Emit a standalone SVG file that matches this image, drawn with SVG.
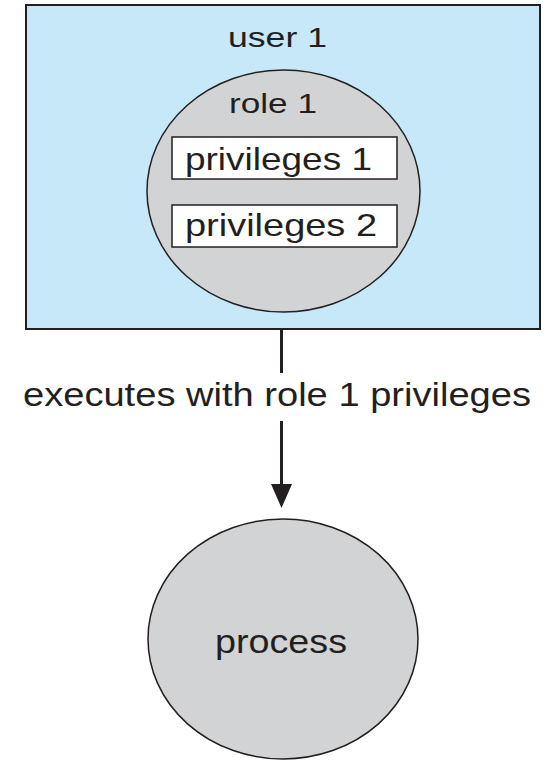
<svg xmlns="http://www.w3.org/2000/svg" width="548" height="760" viewBox="0 0 548 760">
<defs>
<style>
text{font-family:"Liberation Sans",Arial,sans-serif;fill:#231f20}
.shape{stroke:#231f20;stroke-width:1.5}
.conn{stroke:#231f20;stroke-width:3}
</style>
</defs>
<rect width="548" height="760" fill="#ffffff"/>
<g id="user1">
<rect x="26" y="5" width="514" height="324" fill="#c6e8f8" stroke="#231f20" stroke-width="2"/>
<text x="228" y="47" font-size="28" textLength="99" lengthAdjust="spacingAndGlyphs">user 1</text>
</g>
<g id="role1">
<ellipse cx="283.5" cy="191" rx="136.5" ry="121" fill="#d1d3d4" class="shape"/>
<text x="229" y="113" font-size="28" textLength="88" lengthAdjust="spacingAndGlyphs">role 1</text>
</g>
<g id="privileges1">
<rect x="172" y="137" width="225" height="42" fill="#ffffff" class="shape"/>
<text x="185" y="170" font-size="32" textLength="187" lengthAdjust="spacingAndGlyphs">privileges 1</text>
</g>
<g id="privileges2">
<rect x="172" y="205" width="225" height="42" fill="#ffffff" class="shape"/>
<text x="185" y="236" font-size="32" textLength="192" lengthAdjust="spacingAndGlyphs">privileges 2</text>
</g>
<g id="process">
<ellipse cx="283" cy="639" rx="135" ry="120" fill="#d1d3d4" class="shape"/>
<text x="215" y="653" font-size="34" textLength="132" lengthAdjust="spacingAndGlyphs">process</text>
</g>
<g id="connectors">
<line x1="281.5" y1="329" x2="281.5" y2="373" class="conn"/>
<line x1="281.5" y1="421" x2="281.5" y2="486" class="conn"/>
<path d="M271,484 L292,484 L281.5,508 Z" fill="#231f20"/>
<text x="23" y="406" font-size="33" textLength="508" lengthAdjust="spacingAndGlyphs">executes with role 1 privileges</text>
</g>
</svg>
